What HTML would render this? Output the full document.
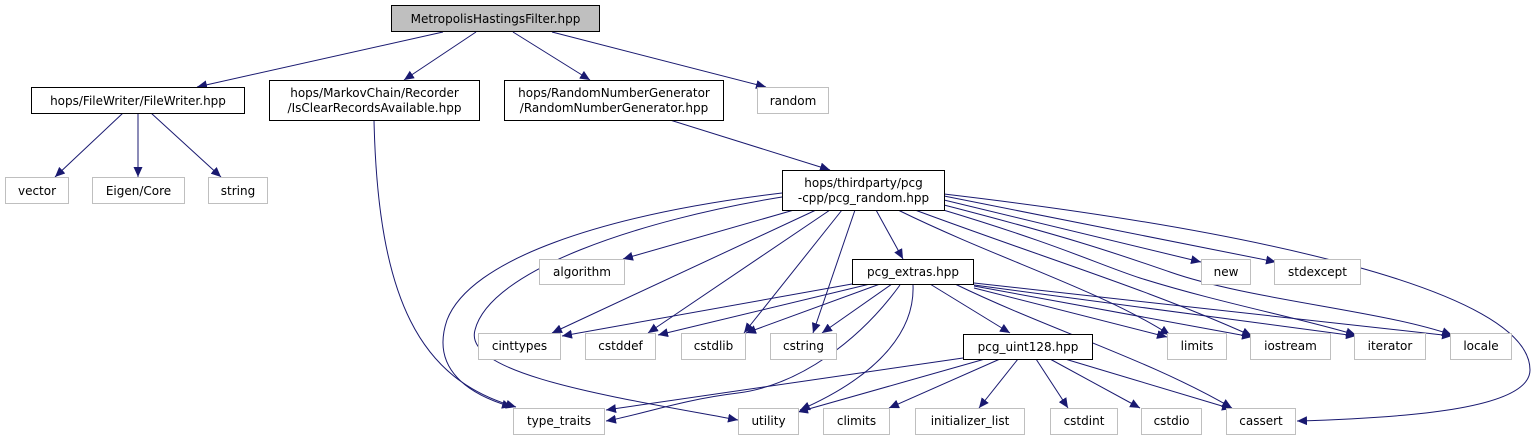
<!DOCTYPE html>
<html><head><meta charset="utf-8"><style>
html,body{margin:0;padding:0;background:#fff}
svg{display:block}
text{font-family:"DejaVu Sans","Liberation Sans",sans-serif;font-size:12px;fill:#000}
</style></head><body>
<svg width="1537" height="440" viewBox="0 0 1537 440" xmlns="http://www.w3.org/2000/svg">
<defs>
<marker id="a" markerUnits="userSpaceOnUse" markerWidth="11" markerHeight="9" refX="10" refY="4.5" orient="auto">
<path d="M0,0 L10,4.5 L0,9 Z" fill="#191970"/>
</marker>
</defs>
<g fill="none" stroke="#191970" stroke-width="1" marker-end="url(#a)">
<path d="M443,32 L197,87"/>
<path d="M476,32 L404,80"/>
<path d="M513,32 L590,80"/>
<path d="M552,32 L766,87"/>
<path d="M123,113 L55,177"/>
<path d="M138,113 L138,177"/>
<path d="M151,113 L221,177"/>
<path d="M374,120 C378,300 420,380 516,407"/>
<path d="M670,120 L830,170"/>
<path d="M794,210 L623,259"/>
<path d="M816,210 L552,333"/>
<path d="M830,210 L648,333"/>
<path d="M842,210 L744,333"/>
<path d="M855,210 L813,333"/>
<path d="M876,210 L903,259"/>
<path d="M898,210 C1000,260 1100,290 1170,335"/>
<path d="M915,210 C1050,260 1150,290 1252,336"/>
<path d="M940,209 C1060,245 1100,265 1140,278 C1220,303 1300,318 1356,335"/>
<path d="M944,205 C1080,240 1120,255 1170,272 C1250,300 1380,310 1452,335"/>
<path d="M944,200 L1201,262"/>
<path d="M944,196 L1276,262"/>
<path d="M944,194 C1250,230 1530,290 1530,370 C1530,410 1400,418 1297,421"/>
<path d="M782,193 C600,215 470,260 447,320 C430,370 470,395 512,407"/>
<path d="M782,197 C640,220 490,270 475,330 C462,375 620,398 738,420"/>
<path d="M852,284 L562,336"/>
<path d="M870,284 L658,335"/>
<path d="M880,284 L746,333"/>
<path d="M892,284 L822,333"/>
<path d="M930,284 L1010,333"/>
<path d="M974,288 L1167,337"/>
<path d="M974,286 L1252,337"/>
<path d="M974,285 L1356,336"/>
<path d="M974,283 L1452,336"/>
<path d="M955,284 C1050,330 1150,360 1232,408"/>
<path d="M900,285 C860,340 800,385 738,393 C680,400 640,415 606,421"/>
<path d="M913,285 C915,330 880,375 800,410"/>
<path d="M963,358 L606,410"/>
<path d="M985,359 L798,412"/>
<path d="M1000,359 L889,408"/>
<path d="M1018,359 L979,408"/>
<path d="M1036,359 L1068,408"/>
<path d="M1050,359 L1140,408"/>
<path d="M1065,359 L1232,409"/>
</g>
<g stroke-width="1">
<rect x="391.5" y="5.5" width="208" height="26" fill="#bfbfbf" stroke="#000"/>
<rect x="31.5" y="87.5" width="213" height="26" fill="#fff" stroke="#000"/>
<rect x="269.5" y="80.5" width="210" height="40" fill="#fff" stroke="#000"/>
<rect x="504.5" y="80.5" width="219" height="40" fill="#fff" stroke="#000"/>
<rect x="782.5" y="170.5" width="162" height="40" fill="#fff" stroke="#000"/>
<rect x="852.5" y="259.5" width="121" height="25" fill="#fff" stroke="#000"/>
<rect x="963.5" y="334.5" width="129" height="25" fill="#fff" stroke="#000"/>
</g>
<g fill="#fff" stroke="#bfbfbf" stroke-width="1">
<rect x="757.5" y="87.5" width="71" height="26"/>
<rect x="5.5" y="177.5" width="63" height="26"/>
<rect x="92.5" y="177.5" width="92" height="26"/>
<rect x="208.5" y="177.5" width="59" height="26"/>
<rect x="539.5" y="259.5" width="85" height="25"/>
<rect x="1201.5" y="259.5" width="49" height="25"/>
<rect x="1274.5" y="259.5" width="86" height="25"/>
<rect x="478.5" y="333.5" width="82" height="26"/>
<rect x="585.5" y="333.5" width="70" height="26"/>
<rect x="681.5" y="333.5" width="64" height="26"/>
<rect x="770.5" y="333.5" width="66" height="26"/>
<rect x="1167.5" y="333.5" width="59" height="26"/>
<rect x="1250.5" y="333.5" width="80" height="26"/>
<rect x="1354.5" y="333.5" width="71" height="26"/>
<rect x="1450.5" y="333.5" width="61" height="26"/>
<rect x="513.5" y="408.5" width="91" height="26"/>
<rect x="738.5" y="408.5" width="60" height="26"/>
<rect x="823.5" y="408.5" width="66" height="26"/>
<rect x="915.5" y="408.5" width="109" height="26"/>
<rect x="1050.5" y="408.5" width="67" height="26"/>
<rect x="1141.5" y="408.5" width="60" height="26"/>
<rect x="1226.5" y="408.5" width="69" height="26"/>
</g>
<g text-anchor="middle">
<text x="495.5" y="23">MetropolisHastingsFilter.hpp</text>
<text x="138" y="105">hops/FileWriter/FileWriter.hpp</text>
<text x="374.5" y="97">hops/MarkovChain/Recorder</text>
<text x="374.5" y="112">/IsClearRecordsAvailable.hpp</text>
<text x="614" y="97">hops/RandomNumberGenerator</text>
<text x="614" y="112">/RandomNumberGenerator.hpp</text>
<text x="863.5" y="187">hops/thirdparty/pcg</text>
<text x="863.5" y="202">-cpp/pcg_random.hpp</text>
<text x="913" y="276">pcg_extras.hpp</text>
<text x="1028" y="351">pcg_uint128.hpp</text>
<text x="793" y="105">random</text>
<text x="37" y="195">vector</text>
<text x="138.5" y="195">Eigen/Core</text>
<text x="238" y="195">string</text>
<text x="582" y="276">algorithm</text>
<text x="1226" y="276">new</text>
<text x="1317.5" y="276">stdexcept</text>
<text x="519.5" y="350">cinttypes</text>
<text x="620.5" y="350">cstddef</text>
<text x="713.5" y="350">cstdlib</text>
<text x="803.5" y="350">cstring</text>
<text x="1197" y="350">limits</text>
<text x="1290.5" y="350">iostream</text>
<text x="1390" y="350">iterator</text>
<text x="1481" y="350">locale</text>
<text x="559" y="425">type_traits</text>
<text x="768.5" y="425">utility</text>
<text x="856.5" y="425">climits</text>
<text x="970" y="425">initializer_list</text>
<text x="1084" y="425">cstdint</text>
<text x="1171.5" y="425">cstdio</text>
<text x="1261" y="425">cassert</text>
</g>
</svg>
</body></html>
